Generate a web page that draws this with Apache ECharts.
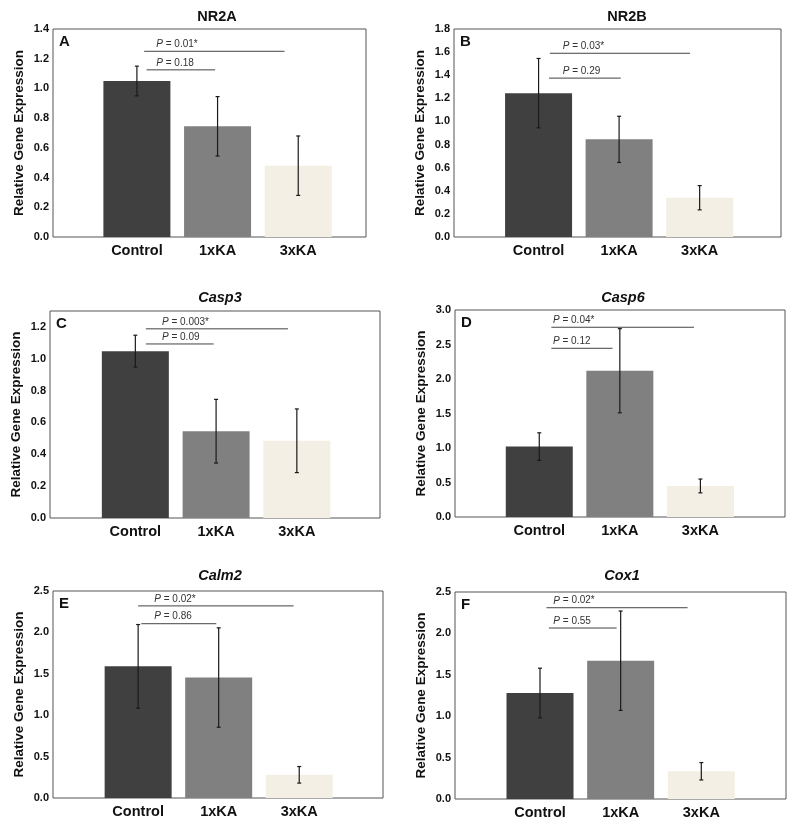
<!DOCTYPE html>
<html><head><meta charset="utf-8">
<script src="https://cdn.jsdelivr.net/npm/echarts@6/dist/echarts.min.js"></script>
<style>html,body{margin:0;padding:0;background:#fff}#c{width:800px;height:828px}</style>
</head><body><div id="c"></div>
<script>
// ---- data ----
const categories = ['Control', '1xKA', '3xKA'];
const genes = ['NR2A', 'NR2B', 'Casp3', 'Casp6', 'Calm2', 'Cox1'];
const panelLetters = ['A', 'B', 'C', 'D', 'E', 'F'];

const nr2aMean  = [1.05, 0.745, 0.48];   const nr2aErr  = [0.10, 0.20, 0.20];
const nr2bMean  = [1.245, 0.845, 0.34];  const nr2bErr  = [0.30, 0.20, 0.105];
const casp3Mean = [1.048, 0.545, 0.485]; const casp3Err = [0.10, 0.20, 0.20];
const casp6Mean = [1.02, 2.12, 0.45];    const casp6Err = [0.20, 0.61, 0.10];
const calm2Mean = [1.59, 1.455, 0.28];   const calm2Err = [0.505, 0.60, 0.10];
const cox1Mean  = [1.28, 1.67, 0.335];   const cox1Err  = [0.30, 0.60, 0.105];

// P values: [Control vs 3xKA, Control vs 1xKA]
const nr2aP  = ['0.01*', '0.18'];
const nr2bP  = ['0.03*', '0.29'];
const casp3P = ['0.003*', '0.09'];
const casp6P = ['0.04*', '0.12'];
const calm2P = ['0.02*', '0.86'];
const cox1P  = ['0.02*', '0.55'];

const means = [nr2aMean, nr2bMean, casp3Mean, casp6Mean, calm2Mean, cox1Mean];
const errs  = [nr2aErr, nr2bErr, casp3Err, casp6Err, calm2Err, cox1Err];
const pvals = [nr2aP, nr2bP, casp3P, casp6P, calm2P, cox1P];

// ---- layout / style ----
const FONT = "'Liberation Sans', Arial, sans-serif";
const barColors = ['#404040', '#808080', '#f3efe4'];
const layout = [
  {grid:{left:53, top:29, width:313, height:208}, x:[-0.04, 3.84], yMax:1.4, step:0.2, title:[217,17], italic:false,
   br:[[1.09,2.83,1.25],[1.12,1.97,1.125]], tx:1.24},
  {grid:{left:454, top:29, width:327, height:208}, x:[-0.05, 4.01], yMax:1.8, step:0.2, title:[627,17], italic:false,
   br:[[1.14,2.88,1.59],[1.13,2.02,1.375]], tx:1.30},
  {grid:{left:50, top:311, width:330, height:207}, x:[-0.057, 4.03], yMax:1.3, step:0.2, title:[220,298], italic:true,
   br:[[1.13,2.89,1.188],[1.13,1.97,1.093]], tx:1.33},
  {grid:{left:455, top:310, width:330, height:207}, x:[-0.046, 4.05], yMax:3.0, step:0.5, title:[623,298], italic:true,
   br:[[1.15,2.92,2.75],[1.15,1.91,2.445]], tx:1.17},
  {grid:{left:53, top:591, width:330, height:207}, x:[-0.057, 4.04], yMax:2.5, step:0.5, title:[220,576], italic:true,
   br:[[1.0,2.93,2.32],[1.04,1.97,2.105]], tx:1.20},
  {grid:{left:455, top:592, width:331, height:207}, x:[-0.054, 4.05], yMax:2.5, step:0.5, title:[622,576], italic:true,
   br:[[1.08,2.83,2.31],[1.11,1.95,2.065]], tx:1.165}
];

const grids = [], xAxes = [], yAxes = [], series = [], graphics = [];
layout.forEach((L, i) => {
  grids.push(Object.assign({show:true, borderColor:'#555', borderWidth:1, backgroundColor:'transparent'}, L.grid));
  xAxes.push({
    type:'value', gridIndex:i, min:L.x[0], max:L.x[1],
    axisLine:{show:false}, axisTick:{show:false}, splitLine:{show:false},
    axisLabel:{
      customValues:[1,2,3], margin:6,
      formatter:(v) => categories[Math.round(v) - 1] || '',
      fontFamily:FONT, fontWeight:'bold', fontSize:14.5, color:'#111'
    }
  });
  const step = L.step;
  yAxes.push({
    type:'value', gridIndex:i, min:0, max:L.yMax, interval:step,
    name:'Relative Gene Expression', nameLocation:'middle', nameGap:27,
    nameTextStyle:{fontFamily:FONT, fontWeight:'bold', fontSize:13.5, color:'#111'},
    axisLine:{show:false}, axisTick:{show:false}, splitLine:{show:false},
    axisLabel:{
      margin:4, fontFamily:FONT, fontWeight:'bold', fontSize:11, color:'#111',
      formatter:(v) => Math.abs(v/step - Math.round(v/step)) < 1e-6 ? v.toFixed(1) : ''
    }
  });
  // bars
  series.push({
    type:'bar', xAxisIndex:i, yAxisIndex:i, barWidth:67, silent:true,
    data: means[i].map((m, k) => ({value:[k + 1, m], itemStyle:{color:barColors[k]}}))
  });
  // error bars
  series.push({
    type:'custom', xAxisIndex:i, yAxisIndex:i, silent:true, z:5,
    data: means[i].map((m, k) => [k + 1, m - errs[i][k], m + errs[i][k]]),
    encode:{x:0, y:[1,2]},
    renderItem:(params, api) => {
      const x = api.value(0);
      const lo = api.coord([x, api.value(1)]);
      const hi = api.coord([x, api.value(2)]);
      const st = {stroke:'#1a1a1a', lineWidth:1.2};
      return {type:'group', children:[
        {type:'line', shape:{x1:lo[0], y1:lo[1], x2:hi[0], y2:hi[1]}, style:st},
        {type:'line', shape:{x1:lo[0]-2, y1:lo[1], x2:lo[0]+2, y2:lo[1]}, style:st},
        {type:'line', shape:{x1:hi[0]-2, y1:hi[1], x2:hi[0]+2, y2:hi[1]}, style:st}
      ]};
    }
  });
  // P-value brackets
  const pv = pvals[i];
  series.push({
    type:'custom', xAxisIndex:i, yAxisIndex:i, silent:true, z:6,
    data: L.br.map(b => [b[0], b[1], b[2], L.tx]),
    encode:{x:[0,1], y:2},
    renderItem:(params, api) => {
      const a = api.coord([api.value(0), api.value(2)]);
      const b = api.coord([api.value(1), api.value(2)]);
      const t = api.coord([api.value(3), api.value(2)]);
      return {type:'group', children:[
        {type:'line', shape:{x1:a[0], y1:a[1], x2:b[0], y2:b[1]}, style:{stroke:'#444', lineWidth:1}},
        {type:'text', x:t[0], y:a[1] - 2, style:{
          text:'{i|P} = ' + pv[params.dataIndex], x:0, y:0,
          textAlign:'left', textVerticalAlign:'bottom',
          font:'10px ' + FONT, fill:'#333',
          rich:{i:{fontStyle:'italic', fontSize:10, fontFamily:FONT, fill:'#333'}}
        }}
      ]};
    }
  });
  // title and panel letter
  graphics.push({type:'text', x:L.title[0], y:L.title[1], style:{
    text:genes[i], textAlign:'center', textVerticalAlign:'middle',
    font:(L.italic ? 'italic ' : '') + 'bold 14.5px ' + FONT, fill:'#111'}});
  graphics.push({type:'text', x:L.grid.left + 6, y:L.grid.top + 13, style:{
    text:panelLetters[i], textAlign:'left', textVerticalAlign:'middle',
    font:'bold 15px ' + FONT, fill:'#111'}});
});

const chart = echarts.init(document.getElementById('c'), null, {renderer:'canvas'});
chart.setOption({
  animation:false,
  backgroundColor:'#fff',
  grid:grids, xAxis:xAxes, yAxis:yAxes, series:series, graphic:graphics
});
</script></body></html>
